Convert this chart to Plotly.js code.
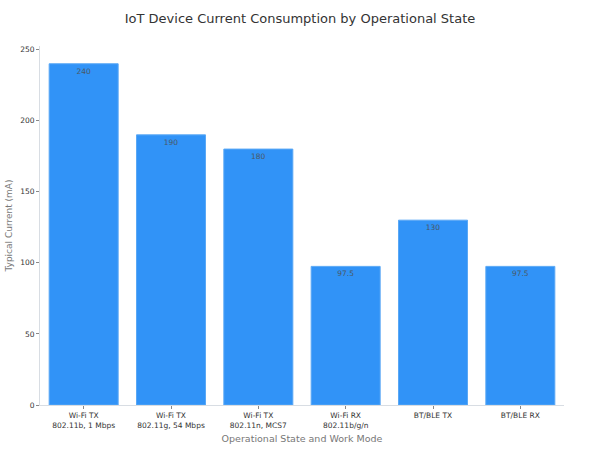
<!DOCTYPE html>
<html>
<head>
<meta charset="utf-8">
<script src="https://cdn.plot.ly/plotly-3.0.1.min.js"></script>
<style>html,body{margin:0;padding:0;background:#fff;}#chart{width:600px;height:450px;}</style>
</head>
<body>
<div id="chart"></div>
<script>
const categories = ["Wi-Fi TX<br>802.11b, 1 Mbps", "Wi-Fi TX<br>802.11g, 54 Mbps", "Wi-Fi TX<br>802.11n, MCS7", "Wi-Fi RX<br>802.11b/g/n", "BT/BLE TX", "BT/BLE RX"];
const currents = [240, 190, 180, 97.5, 130, 97.5];
const labels = ["240", "190", "180", "97.5", "130", "97.5"];

const trace = {
  type: "bar",
  x: categories,
  y: currents,
  text: labels,
  textposition: "inside",
  insidetextanchor: "end",
  textangle: 0,
  textfont: {family: "DejaVu Sans", size: 7.5, color: "#4a5866"},
  marker: {color: "#3193f7", line: {color: "#5aa8f5", width: 1}},
  hoverinfo: "none"
};

const layout = {
  width: 600, height: 450,
  margin: {l: 40, r: 36, t: 46, b: 45},
  paper_bgcolor: "#fff", plot_bgcolor: "#fff",
  font: {family: "DejaVu Sans", color: "#333"},
  title: {text: "IoT Device Current Consumption by Operational State", font: {size: 13, color: "#333"}, x: 0.5, xanchor: "center", y: 0.96, yanchor: "middle"},
  bargap: 0.21,
  showlegend: false,
  xaxis: {
    title: {text: "Operational State and Work Mode", font: {size: 9.5, color: "#777"}, standoff: 6},
    tickfont: {size: 7.5, color: "#333"},
    showline: true, linecolor: "#d8dde3", linewidth: 1,
    ticks: "outside", ticklen: 3, tickcolor: "#888",
    showgrid: false
  },
  yaxis: {
    title: {text: "Typical Current (mA)", font: {size: 9, color: "#777"}, standoff: 6},
    tickfont: {size: 7.5, color: "#333"},
    range: [0, 252.5],
    tickvals: [0, 50, 100, 150, 200, 250],
    showline: true, linecolor: "#d8dde3", linewidth: 1,
    ticks: "outside", ticklen: 3, tickcolor: "#888",
    showgrid: false, zeroline: false
  }
};

Plotly.newPlot("chart", [trace], layout, {staticPlot: true, displayModeBar: false});
</script>
</body>
</html>
